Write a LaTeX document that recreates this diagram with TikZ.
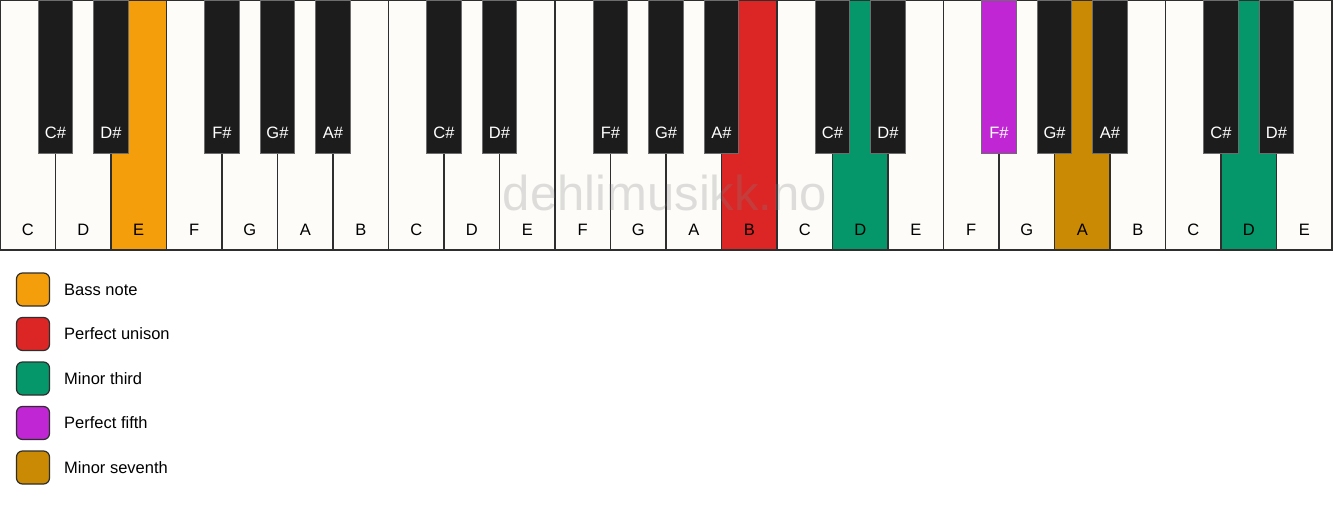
\documentclass[tikz,border=0pt]{standalone}
\usepackage{fontspec}
\setmainfont{Liberation Sans}
\definecolor{keywhite}{HTML}{FDFCF9}
\definecolor{keyblack}{HTML}{1C1C1C}
\definecolor{keyline}{HTML}{2E2E2E}
\definecolor{bassc}{HTML}{F59E0B}
\definecolor{unisonc}{HTML}{DC2626}
\definecolor{thirdc}{HTML}{059669}
\definecolor{fifthc}{HTML}{C026D3}
\definecolor{seventhc}{HTML}{CA8A04}
\begin{document}
\begin{tikzpicture}[x=1pt,y=-1pt,
  whitekey/.style={draw=keyline, line width=1.3pt, rectangle, anchor=north west,
    minimum width=55.5pt, minimum height=250pt, inner sep=0pt, outer sep=0pt},
  blackkey/.style={draw=keyline!70, line width=1pt, rectangle, anchor=north,
    minimum width=34.5pt, minimum height=153pt, inner sep=0pt, outer sep=0pt},
  whitelabel/.style={font=\fontsize{16.5}{19}\selectfont, text=black, inner sep=0pt},
  blacklabel/.style={font=\fontsize{16.5}{19}\selectfont, text=white, inner sep=0pt},
  legendbox/.style={draw=keyline, line width=1.2pt, rounded corners=6pt, minimum size=33pt, inner sep=0pt},
  legendtext/.style={font=\fontsize{16.5}{19}\selectfont, anchor=west, inner sep=0pt},
  watermark/.style={font=\fontsize{49}{56}\selectfont, text=gray, text opacity=0.25, inner sep=0pt}]
\useasboundingbox (0,0) rectangle (1333,506);
\fill[white] (0,0) rectangle (1333,506);
% white keys
\foreach \i/\n/\c in {0/C/keywhite,1/D/keywhite,2/E/bassc,3/F/keywhite,4/G/keywhite,5/A/keywhite,6/B/keywhite,
  7/C/keywhite,8/D/keywhite,9/E/keywhite,10/F/keywhite,11/G/keywhite,12/A/keywhite,13/B/unisonc,
  14/C/keywhite,15/D/thirdc,16/E/keywhite,17/F/keywhite,18/G/keywhite,19/A/seventhc,20/B/keywhite,
  21/C/keywhite,22/D/thirdc,23/E/keywhite}{
  \node[whitekey, fill=\c] (w\i) at (\i*55.5,0) {};
  \node[whitelabel] (wl\i) at (\i*55.5+27.75,230) {\n};
}
\node[watermark] (wm) at (665,193) {dehlimusikk.no};
% black keys
\foreach \i/\n/\c in {1/C\#/keyblack,2/D\#/keyblack,4/F\#/keyblack,5/G\#/keyblack,6/A\#/keyblack,
  8/C\#/keyblack,9/D\#/keyblack,11/F\#/keyblack,12/G\#/keyblack,13/A\#/keyblack,
  15/C\#/keyblack,16/D\#/keyblack,18/F\#/fifthc,19/G\#/keyblack,20/A\#/keyblack,
  22/C\#/keyblack,23/D\#/keyblack}{
  \node[blackkey, fill=\c] (b\i) at (\i*55.5,0) {};
  \node[blacklabel] (bl\i) at (\i*55.5,133) {\n};
}
% legend
\foreach \k/\c/\t in {0/bassc/Bass note,1/unisonc/Perfect unison,2/thirdc/Minor third,3/fifthc/Perfect fifth,4/seventhc/Minor seventh}{
  \node[legendbox, fill=\c] (lb\k) at (33,289.5+\k*44.5) {};
  \node[legendtext] (lt\k) at (64,289.5+\k*44.5) {\t};
}
\end{tikzpicture}
\end{document}
